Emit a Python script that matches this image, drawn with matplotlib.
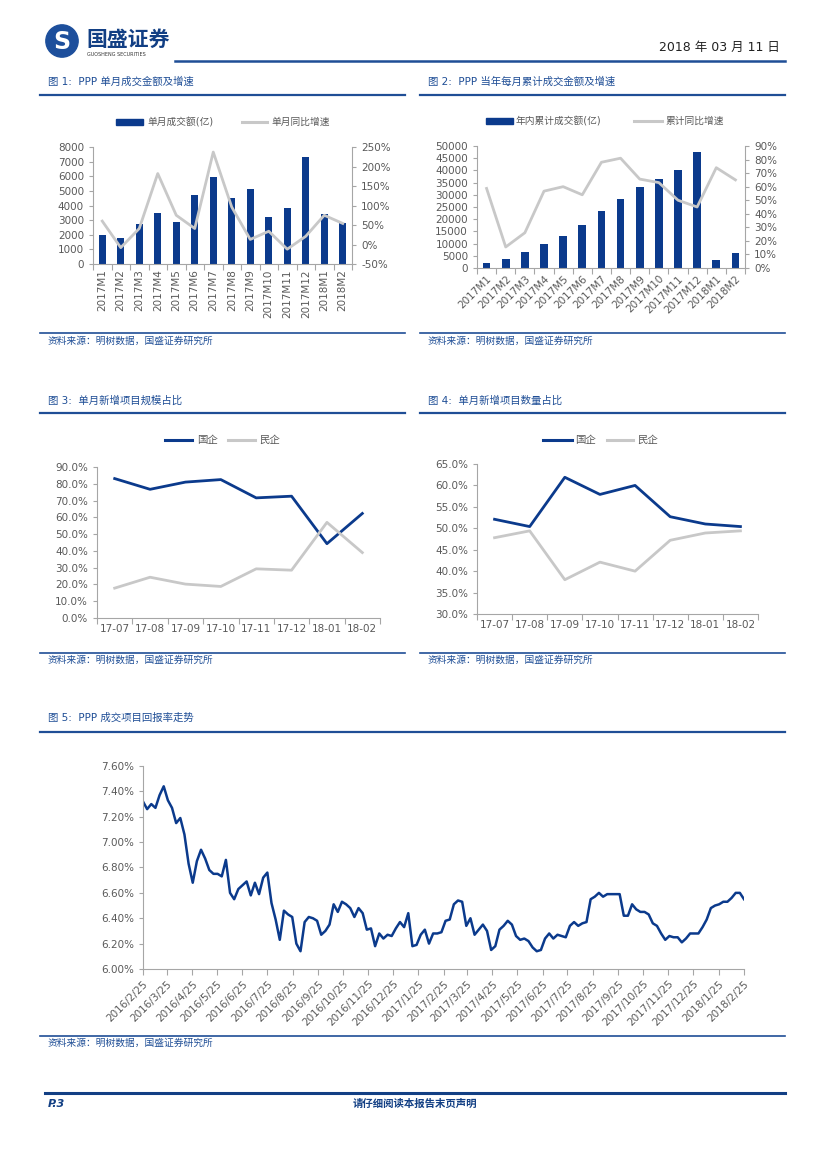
import numpy as np
import pandas as pd
import matplotlib
matplotlib.use("Agg")
import matplotlib.pyplot as plt
from matplotlib.lines import Line2D
from matplotlib.patches import Rectangle, Circle

plt.rcParams['font.family'] = ['DejaVu Sans', 'Noto Sans CJK SC']

# ---------------- data ----------------
months = ['2017M1', '2017M2', '2017M3', '2017M4', '2017M5', '2017M6', '2017M7',
          '2017M8', '2017M9', '2017M10', '2017M11', '2017M12', '2018M1', '2018M2']
monthly_amt = [1980, 1800, 2730, 3500, 2840, 4700, 5950, 4480, 5160, 3230, 3860, 7320, 3410, 2770]
monthly_yoy = [60, -8, 41, 182, 75, 41, 237, 96, 13, 34, -12, 21, 75, 54]

cum_amt = [1920, 3840, 6440, 10000, 13000, 17530, 23560, 28080, 33010, 36300, 40140, 47400, 3420, 6300]
cum_yoy = [58.7, 15.5, 26, 56.7, 60, 54, 78, 81, 65.6, 63, 50, 45, 74, 65]

share_months = ['17-07', '17-08', '17-09', '17-10', '17-11', '17-12', '18-01', '18-02']
scale_soe = [83.1, 76.7, 81.0, 82.5, 71.6, 72.6, 44.3, 62.3]
scale_private = [17.8, 24.3, 20.2, 18.8, 29.3, 28.5, 57.0, 39.0]
count_soe = [52.1, 50.4, 61.9, 57.9, 60.0, 52.7, 51.0, 50.4]
count_private = [47.8, 49.4, 38.0, 42.1, 40.0, 47.2, 48.9, 49.4]

return_rate = [
    7.32, 7.26, 7.30, 7.27, 7.37, 7.44, 7.33, 7.27, 7.15, 7.19,
    7.06, 6.83, 6.68, 6.85, 6.94, 6.87, 6.78, 6.75, 6.75, 6.73,
    6.86, 6.60, 6.55, 6.63, 6.66, 6.69, 6.58, 6.68, 6.59, 6.72,
    6.76, 6.52, 6.39, 6.23, 6.46, 6.43, 6.41, 6.20, 6.14, 6.37,
    6.41, 6.40, 6.38, 6.27, 6.30, 6.35, 6.51, 6.45, 6.53, 6.51,
    6.48, 6.41, 6.48, 6.44, 6.31, 6.32, 6.18, 6.28, 6.24, 6.27,
    6.26, 6.32, 6.37, 6.33, 6.44, 6.18, 6.19, 6.27, 6.31, 6.20,
    6.28, 6.28,
    6.29, 6.38, 6.39, 6.51, 6.54, 6.53, 6.34, 6.40, 6.27, 6.31,
    6.35, 6.30, 6.15, 6.18, 6.31, 6.34, 6.38, 6.35, 6.26, 6.23,
    6.24, 6.22, 6.17, 6.14, 6.15, 6.24, 6.28, 6.24, 6.27, 6.26,
    6.25, 6.34, 6.37, 6.34, 6.36, 6.37, 6.55, 6.57, 6.60, 6.57,
    6.59, 6.59, 6.59, 6.59, 6.42, 6.42, 6.51, 6.47, 6.45, 6.45,
    6.43, 6.36, 6.34, 6.28, 6.23, 6.26, 6.25, 6.25, 6.21, 6.24,
    6.28, 6.28, 6.28, 6.33, 6.39, 6.48, 6.50, 6.51, 6.53, 6.53,
    6.56, 6.60, 6.60, 6.55]
rate_start, rate_end = '2016-02-25', '2018-02-25'

# ---------------- style ----------------
W, H = 827, 1169
NAVY = '#0b3a8c'
GRAY = '#c8c8c8'
AXC = '#a6a6a6'
TXT = '#595959'
BLUE = '#1f4e96'

fig = plt.figure(figsize=(W / 100, H / 100), dpi=100)


def ax_at(x0, y0, x1, y1):
    return fig.add_axes([x0 / W, 1 - y1 / H, (x1 - x0) / W, (y1 - y0) / H])


def ftext(x, y, s, **kw):
    fig.text(x / W, 1 - y / H, s, **kw)


def hline(x0, x1, y, color=BLUE, lw=1.6):
    fig.add_artist(Line2D([x0 / W, x1 / W], [1 - y / H, 1 - y / H],
                          transform=fig.transFigure, color=color, lw=lw))


def legend_line(x0, x1, y, color):
    fig.add_artist(Line2D([x0 / W, x1 / W], [1 - y / H, 1 - y / H],
                          transform=fig.transFigure, color=color, lw=2.2))


def legend_bar(x0, x1, y):
    fig.add_artist(Rectangle((x0 / W, 1 - (y + 3) / H), (x1 - x0) / W, 6 / H,
                             transform=fig.transFigure, color=NAVY))


def style_axes(ax, right=False):
    ax.spines['top'].set_visible(False)
    ax.spines['right'].set_visible(right)
    for s in ['left', 'bottom', 'right']:
        ax.spines[s].set_color(AXC)
    ax.tick_params(colors=AXC, labelcolor=TXT, labelsize=7.5, length=3, width=0.8)


def cat_axis(ax, labels, **kw):
    n = len(labels)
    ax.set_xlim(-0.5, n - 0.5)
    ax.set_xticks(range(n))
    ax.set_xticklabels(labels, **kw)
    ax.set_xticks(np.arange(-0.5, n), minor=True)
    ax.tick_params(axis='x', which='major', length=0, pad=4)
    ax.tick_params(axis='x', which='minor', length=4, color=AXC, width=0.8)


# ---------------- header / footer ----------------
logo = ax_at(44, 24, 80, 58)
logo.set_xlim(-1, 1)
logo.set_ylim(-1, 1)
logo.set_aspect('equal')
logo.axis('off')
logo.add_patch(Circle((0, 0), 0.95, color='#1d4f9c'))
logo.text(0, -0.05, 'S', color='white', fontsize=17, fontweight='bold', ha='center', va='center')
ftext(86, 40, '国盛证券', fontsize=15, fontweight='bold', color='#123f84', va='center')
ftext(87, 55, 'GUOSHENG SECURITIES', fontsize=3.5, color='#333333', va='center')
ftext(780, 47, '2018 年 03 月 11 日', fontsize=9, ha='right', va='center', color='#222222')
hline(175, 785, 61, lw=1.8)

hline(45, 785, 1093, color='#123f84', lw=2.2)
ftext(48, 1104, 'P.3', fontsize=8, fontweight='bold', style='italic', color='#123f84', va='center')
ftext(415, 1104, '请仔细阅读本报告末页声明', fontsize=7.5, fontweight='bold', color='#123f84',
      ha='center', va='center')

# titles, rules and sources
for x0, x1, title in [(40, 405, '图 1:  PPP 单月成交金额及增速'),
                      (420, 785, '图 2:  PPP 当年每月累计成交金额及增速')]:
    ftext(x0 + 8, 82, title, fontsize=7.5, color=BLUE, va='center')
    hline(x0, x1, 95)
    hline(x0, x1, 333, lw=1.2)
    ftext(x0 + 8, 341, '资料来源：明树数据，国盛证券研究所', fontsize=7, color=BLUE, va='center')

for x0, x1, title in [(40, 405, '图 3:  单月新增项目规模占比'),
                      (420, 785, '图 4:  单月新增项目数量占比')]:
    ftext(x0 + 8, 401, title, fontsize=7.5, color=BLUE, va='center')
    hline(x0, x1, 413)
    hline(x0, x1, 653, lw=1.2)
    ftext(x0 + 8, 660, '资料来源：明树数据，国盛证券研究所', fontsize=7, color=BLUE, va='center')

ftext(48, 718, '图 5:  PPP 成交项目回报率走势', fontsize=7.5, color=BLUE, va='center')
hline(40, 785, 732)
hline(40, 785, 1036, lw=1.2)
ftext(48, 1043, '资料来源：明树数据，国盛证券研究所', fontsize=7, color=BLUE, va='center')

# ---------------- chart 1 ----------------
ax1 = ax_at(93, 147, 352, 264)
x = np.arange(len(months))
ax1.bar(x, monthly_amt, width=0.4, color=NAVY)
ax1.set_ylim(0, 8000)
ax1.set_yticks(range(0, 8001, 1000))
style_axes(ax1, right=False)
cat_axis(ax1, months, rotation=90)
ax1r = ax1.twinx()
ax1r.plot(x, monthly_yoy, color=GRAY, lw=2)
ax1r.set_ylim(-50, 250)
ax1r.set_yticks(range(-50, 251, 50))
ax1r.set_yticklabels([f'{v}%' for v in range(-50, 251, 50)])
style_axes(ax1r, right=True)
ax1r.spines['left'].set_visible(False)
ax1r.spines['bottom'].set_visible(False)

legend_bar(116, 143, 122)
ftext(147, 122, '单月成交额(亿)', fontsize=7, color=TXT, va='center')
legend_line(242, 267, 122, GRAY)
ftext(271, 122, '单月同比增速', fontsize=7, color=TXT, va='center')

# ---------------- chart 2 ----------------
ax2 = ax_at(477, 146, 745, 268)
ax2.bar(x, cum_amt, width=0.4, color=NAVY)
ax2.set_ylim(0, 50000)
ax2.set_yticks(range(0, 50001, 5000))
style_axes(ax2, right=False)
cat_axis(ax2, months, rotation=45, ha='right', rotation_mode='anchor')
ax2r = ax2.twinx()
ax2r.plot(x, cum_yoy, color=GRAY, lw=2)
ax2r.set_ylim(0, 90)
ax2r.set_yticks(range(0, 91, 10))
ax2r.set_yticklabels([f'{v}%' for v in range(0, 91, 10)])
style_axes(ax2r, right=True)
ax2r.spines['left'].set_visible(False)
ax2r.spines['bottom'].set_visible(False)

legend_bar(486, 513, 121)
ftext(516, 121, '年内累计成交额(亿)', fontsize=7, color=TXT, va='center')
legend_line(634, 662, 121, GRAY)
ftext(665, 121, '累计同比增速', fontsize=7, color=TXT, va='center')

# ---------------- chart 3 ----------------
ax3 = ax_at(97, 467, 380, 618)
xs = np.arange(len(share_months))
ax3.plot(xs, scale_soe, color=NAVY, lw=2)
ax3.plot(xs, scale_private, color=GRAY, lw=2)
ax3.set_ylim(0, 90)
ax3.set_yticks(range(0, 91, 10))
ax3.set_yticklabels([f'{v:.1f}%' for v in range(0, 91, 10)])
style_axes(ax3)
cat_axis(ax3, share_months)

legend_line(165, 192, 440, NAVY)
ftext(197, 440, '国企', fontsize=7.5, color=TXT, va='center')
legend_line(228, 255, 440, GRAY)
ftext(259, 440, '民企', fontsize=7.5, color=TXT, va='center')

# ---------------- chart 4 ----------------
ax4 = ax_at(477, 464, 758, 614)
ax4.plot(xs, count_soe, color=NAVY, lw=2)
ax4.plot(xs, count_private, color=GRAY, lw=2)
ax4.set_ylim(30, 65)
ax4.set_yticks(np.arange(30, 65.1, 5))
ax4.set_yticklabels([f'{v:.1f}%' for v in np.arange(30, 65.1, 5)])
style_axes(ax4)
cat_axis(ax4, share_months)

legend_line(543, 572, 440, NAVY)
ftext(575, 440, '国企', fontsize=7.5, color=TXT, va='center')
legend_line(607, 633, 440, GRAY)
ftext(637, 440, '民企', fontsize=7.5, color=TXT, va='center')

# ---------------- chart 5 ----------------
ax5 = ax_at(143, 766, 744, 969)
dates = pd.date_range(rate_start, rate_end, periods=len(return_rate))
ax5.plot(dates, return_rate, color=NAVY, lw=1.8)
ax5.set_ylim(6.0, 7.6)
yt = np.arange(6.0, 7.61, 0.2)
ax5.set_yticks(yt)
ax5.set_yticklabels([f'{v:.2f}%' for v in yt])
tick_dates = pd.date_range(rate_start, periods=25, freq=pd.DateOffset(months=1))
ax5.set_xlim(pd.Timestamp(rate_start), pd.Timestamp(rate_end))
ax5.set_xticks(tick_dates)
ax5.set_xticklabels([f'{d.year}/{d.month}/{d.day}' for d in tick_dates],
                    rotation=45, ha='right', rotation_mode='anchor')
style_axes(ax5)
ax5.tick_params(axis='x', length=4, pad=3)
ax5.tick_params(axis='y', length=3)

fig.savefig('out.png', dpi=100)
